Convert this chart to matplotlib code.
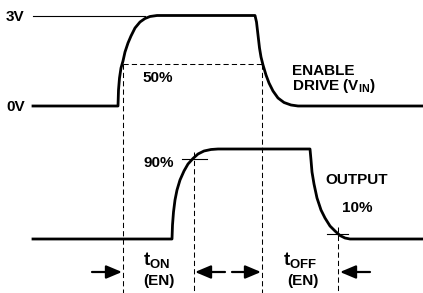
import matplotlib
matplotlib.use("Agg")
import matplotlib.pyplot as plt

plt.rcParams['font.family'] = ['Liberation Sans', 'DejaVu Sans']
plt.rcParams['mathtext.fontset'] = 'custom'
plt.rcParams['mathtext.rm'] = 'Liberation Sans:bold'
plt.rcParams['mathtext.bf'] = 'Liberation Sans:bold'
plt.rcParams['mathtext.it'] = 'Liberation Sans:bold'

# ---- data (pixel coordinates) ----
vin_x = [33, 118, 118.5, 119.5, 121, 123, 125, 128, 131, 135, 140, 145, 150, 157,
         255, 256.5, 258, 259.5, 261, 263, 266, 269, 273, 278, 284, 291, 298, 423]
vin_y = [106, 106, 90, 78, 68, 61, 52, 43, 36, 28, 22, 18.5, 16.5, 15.5,
         15.5, 22, 35, 48, 57, 65, 75, 83, 91, 98, 102.5, 105, 106, 106]

out_x = [33, 172, 172.5, 173.5, 175, 177, 180, 184, 188, 193, 198, 204, 211, 218,
         310, 311, 312, 314, 317, 321, 325, 330, 335, 340, 345, 350, 423]
out_y = [239, 239, 225, 212, 200, 190, 180, 171, 164, 158.5, 154, 151, 149.5, 149,
         149, 160, 172, 184, 198, 210, 218, 226, 231, 235.5, 238, 239, 239]

ref3v_x = [33, 145]
ref3v_y = [15.5, 15.5]

# dashed guides: (x0, y0, x1, y1)
dashed_lines = [
    (123, 63.5, 262, 63.5),
    (123, 63.5, 123, 293),
    (262, 63.5, 262, 293),
    (194, 152, 194, 293),
    (338, 227, 338, 293),
]
# short marker ticks
markers = [(182, 159, 207, 159), (327, 234, 348, 234)]

# arrows: (tail_x, head_x), y
arrow_y = 272
arrows = [(92, 122), (225, 195), (232, 261), (370, 340)]

labels = [
    ("3V", 6, 21), ("0V", 6, 111), ("50%", 142, 82),
    ("ENABLE", 292, 75), ("DRIVE (V$_{\\mathbf{IN}}$)", 292, 90),
    ("90%", 143, 167), ("OUTPUT", 325, 184), ("10%", 342, 212),
    ("(EN)", 143, 285), ("(EN)", 287, 285),
]
tlabels = [("t$_{\\mathbf{ON}}$", 143, 265), ("t$_{\\mathbf{OFF}}$", 283, 265)]

fig = plt.figure(figsize=(4.23, 2.93), dpi=100)
ax = fig.add_axes([0, 0, 1, 1])
ax.set_xlim(0, 423)
ax.set_ylim(293, 0)
ax.axis('off')

ax.plot(vin_x, vin_y, color='black', lw=2.0, solid_joinstyle='round')
ax.plot(out_x, out_y, color='black', lw=2.0, solid_joinstyle='round')
ax.plot(ref3v_x, ref3v_y, color='black', lw=0.8)

for x0, y0, x1, y1 in dashed_lines:
    ax.plot([x0, x1], [y0, y1], color='black', lw=0.75, linestyle=(0, (5, 3)))
for x0, y0, x1, y1 in markers:
    ax.plot([x0, x1], [y0, y1], color='black', lw=0.8)

for tail, head in arrows:
    ax.annotate('', xy=(head, arrow_y), xytext=(tail, arrow_y),
                arrowprops=dict(arrowstyle='-|>,head_length=0.95,head_width=0.4',
                                lw=1.6, color='black', shrinkA=0, shrinkB=0,
                                mutation_scale=10))

for s, x, y in labels:
    ax.text(x, y, s, fontsize=11, fontweight='bold', ha='left', va='baseline')
for s, x, y in tlabels:
    ax.text(x, y, s, fontsize=13.5, fontweight='bold', ha='left', va='baseline')

fig.savefig('out.png', dpi=100)
